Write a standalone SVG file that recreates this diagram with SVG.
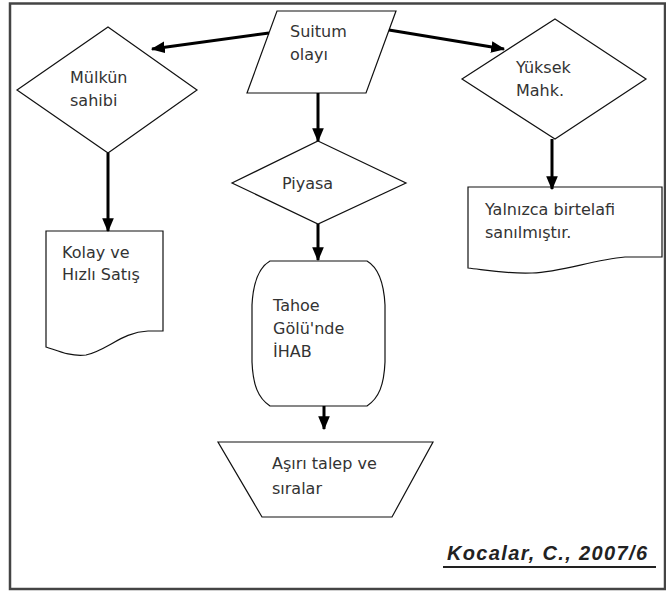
<svg xmlns="http://www.w3.org/2000/svg" width="666" height="594" viewBox="0 0 666 594">
<style>
.shape{fill:#fff;stroke:#111;stroke-width:1.2}
.t{font-family:"DejaVu Sans","Liberation Sans",sans-serif;font-size:16px;fill:#333}
.conn{stroke:#000;stroke-width:3;fill:none}
</style>
<defs>
<marker id="ah" viewBox="0 0 12 10" refX="11" refY="5" markerWidth="14" markerHeight="12" markerUnits="userSpaceOnUse" orient="auto">
<path d="M0,0 L12,5 L0,10 z" fill="#000"/>
</marker>
</defs>
<rect x="0" y="0" width="666" height="594" fill="#fff"/>
<rect x="10" y="3.5" width="655" height="585.5" fill="none" stroke="#444" stroke-width="2.5"/>

<g id="suitum">
<polygon class="shape" points="277,11 396,11 366,93 247,93"/>
<text class="t" x="290" y="37">Suitum</text>
<text class="t" x="290" y="60">olayı</text>
</g>
<g id="mulkun">
<polygon class="shape" points="108,27 197,90 108,153 17,90"/>
<text class="t" x="70" y="83">Mülkün</text>
<text class="t" x="70" y="106">sahibi</text>
</g>
<g id="yuksek">
<polygon class="shape" points="555,19 646,79 555,139 462,79"/>
<text class="t" x="516" y="73">Yüksek</text>
<text class="t" x="516" y="96">Mahk.</text>
</g>
<g id="piyasa">
<polygon class="shape" points="318,141 406,183 318,224 232,183"/>
<text class="t" x="282" y="189">Piyasa</text>
</g>
<g id="kolay">
<path class="shape" d="M46,231 H163 V331 H148 C122,332 108,350 86,355 C70,357 56,350 46,347 Z"/>
<text class="t" x="62" y="258">Kolay ve</text>
<text class="t" x="62" y="280">Hızlı Satış</text>
</g>
<g id="yalnizca">
<path class="shape" d="M468,187 H662 V257 H625 C592,260 562,272 532,273 C506,274 486,270 468,268 Z"/>
<text class="t" x="485" y="215">Yalnızca birtelafi</text>
<text class="t" x="485" y="238">sanılmıştır.</text>
</g>
<g id="tahoe">
<path class="shape" d="M270,261 H367 C379,268 384,285 385,305 V362 C384,385 379,398 367,406 H270 C258,398 253,385 252,362 V305 C253,285 258,268 270,261 Z"/>
<text class="t" x="273" y="311">Tahoe</text>
<text class="t" x="273" y="334">Gölü'nde</text>
<text class="t" x="273" y="357">İHAB</text>
</g>
<g id="asiri">
<polygon class="shape" points="218,442 433,442 392,517 262,517"/>
<text class="t" x="272" y="469">Aşırı talep ve</text>
<text class="t" x="272" y="494">sıralar</text>
</g>

<g id="connectors">
<line class="conn" x1="269" y1="33" x2="152" y2="49" marker-end="url(#ah)"/>
<line class="conn" x1="389" y1="30" x2="504" y2="49" marker-end="url(#ah)"/>
<line class="conn" x1="318" y1="93" x2="318" y2="141" marker-end="url(#ah)"/>
<line class="conn" x1="108" y1="153" x2="108" y2="231" marker-end="url(#ah)"/>
<line class="conn" x1="552" y1="139" x2="552" y2="189" marker-end="url(#ah)"/>
<line class="conn" x1="318" y1="224" x2="318" y2="260" marker-end="url(#ah)"/>
<line class="conn" x1="324" y1="406" x2="324" y2="429" marker-end="url(#ah)"/>
</g>

<g id="citation">
<text x="447" y="560" font-family="'Liberation Sans',Arial,sans-serif" font-size="20" font-weight="bold" font-style="italic" fill="#222" textLength="200" lengthAdjust="spacing">Kocalar, C., 2007/6</text>
<line x1="443" y1="567" x2="656" y2="567" stroke="#222" stroke-width="2"/>
</g>
</svg>
